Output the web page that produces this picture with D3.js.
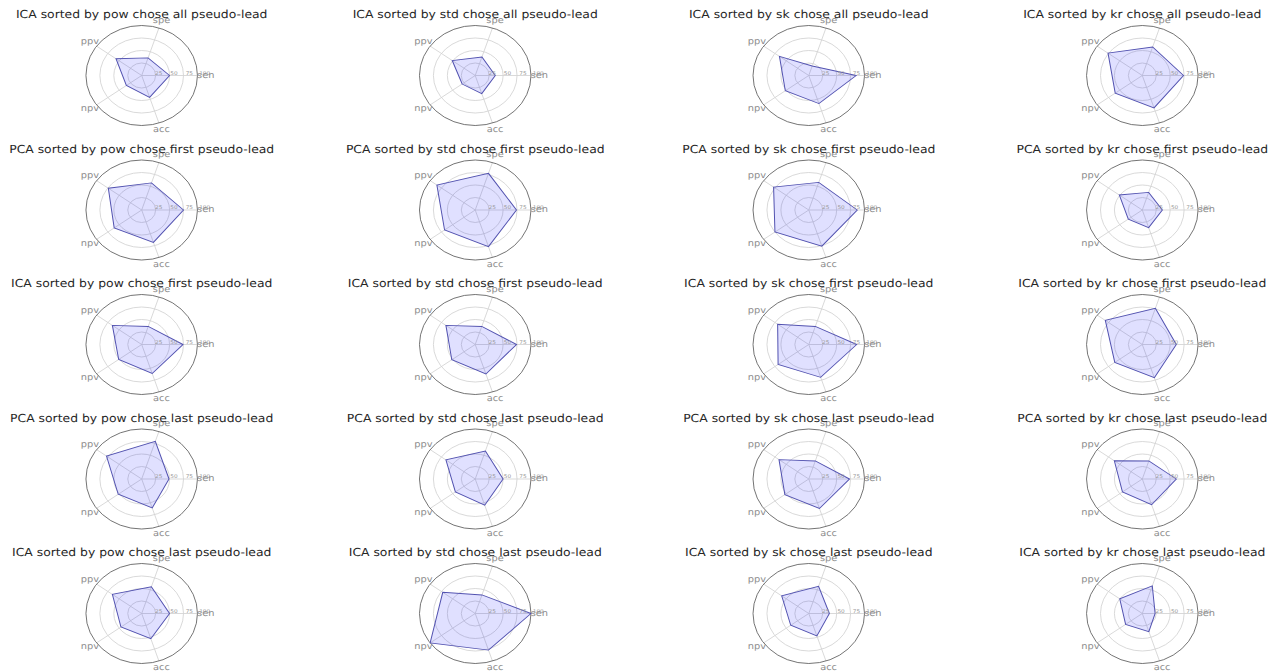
<!DOCTYPE html>
<html>
<head>
<meta charset="utf-8">
<script src="https://cdn.jsdelivr.net/npm/d3@7"></script>
<style>
  html, body { margin: 0; padding: 0; background: #fff; }
  svg { display: block; font-family: "DejaVu Sans", sans-serif; text-rendering: geometricPrecision; }
</style>
</head>
<body>
<svg id="chart" width="1270" height="672"></svg>
<script>
// Radar axes (counter-clockwise from the right) and radial ticks
const metrics = ["sen", "spe", "ppv", "npv", "acc"];
const radialTicks = [25, 50, 75, 100];
const sortKeys = ["pow", "std", "sk", "kr"];

// One row per decomposition / lead choice
const rowMethods = ["ICA", "PCA", "ICA", "PCA", "ICA"];
const rowChoices = ["all", "first", "first", "last", "last"];

// Scores per sort key, in metric order: sen, spe, ppv, npv, acc
const icaAllLeads    = [[50, 37, 57, 34, 46], [36, 39, 51, 29, 38], [85, 20, 65, 52, 59], [74, 60, 76, 60, 68]];
const pcaFirstLead   = [[75, 57, 74, 61, 68], [74, 77, 85, 68, 77], [87, 58, 78, 75, 76], [36, 37, 51, 31, 37]];
const icaFirstLead   = [[74, 38, 65, 51, 61], [74, 38, 65, 52, 62], [86, 38, 69, 68, 69], [61, 76, 82, 61, 70]];
const pcaLastLead    = [[49, 79, 78, 52, 61], [50, 59, 65, 44, 55], [73, 38, 66, 53, 62], [61, 38, 62, 44, 54]];
const icaLastLead    = [[50, 56, 65, 46, 53], [100, 39, 72, 100, 77], [37, 57, 60, 40, 47], [23, 58, 50, 37, 38]];
const rowValues = [icaAllLeads, pcaFirstLead, icaFirstLead, pcaLastLead, icaLastLead];

// The figure is drawn on an unstretched grid, then widened horizontally
const SX = 1.115;

const svg = d3.select("#chart");
const root = svg.append("g").attr("transform", `scale(${SX},1)`);

const col = d3.scalePoint().domain(sortKeys).range([141.7 / SX, 1142.3 / SX]);
const row = d3.scalePoint().domain(d3.range(rowMethods.length)).range([75.5, 613.5]);
const r = d3.scaleLinear().domain([0, 100]).range([0, 50]);
const angleDeg = d3.scalePoint().domain(metrics).range([0, 288]);

const toXY = (m, v) => {
  const a = angleDeg(m) * Math.PI / 180;
  return [r(v) * Math.cos(a), -r(v) * Math.sin(a)];
};

const line = d3.line().curve(d3.curveLinearClosed);

rowValues.forEach((vals, ri) => {
  sortKeys.forEach((key, ci) => {
    const g = root.append("g")
      .attr("transform", `translate(${col(key)},${row(ri)})`);

    // Grid rings
    g.selectAll("circle.ring")
      .data(radialTicks.slice(0, -1))
      .join("circle")
      .attr("class", "ring")
      .attr("r", d => r(d))
      .attr("fill", "none")
      .attr("stroke", "#d2d2d2")
      .attr("stroke-width", 0.8);

    // Spokes
    g.selectAll("line.spoke")
      .data(metrics)
      .join("line")
      .attr("class", "spoke")
      .attr("x1", 0).attr("y1", 0)
      .attr("x2", m => toXY(m, 100)[0])
      .attr("y2", m => toXY(m, 100)[1])
      .attr("stroke", "#d2d2d2")
      .attr("stroke-width", 0.8);

    // Outer boundary
    g.append("circle")
      .attr("r", r(100))
      .attr("fill", "none")
      .attr("stroke", "#5a5a5a")
      .attr("stroke-width", 0.8);

    // Score polygon
    const pts = metrics.map((m, i) => toXY(m, vals[ci][i]));
    g.append("path")
      .attr("d", line(pts))
      .attr("fill", "#0000ff")
      .attr("fill-opacity", 0.12)
      .attr("stroke", "#5252b0")
      .attr("stroke-width", 0.9);

    // Radial tick labels along the first axis
    g.selectAll("text.rtick")
      .data(radialTicks)
      .join("text")
      .attr("class", "rtick")
      .attr("x", d => r(d) * 1.1 + 1.5)
      .attr("y", -2)
      .attr("text-anchor", "middle")
      .attr("dominant-baseline", "central")
      .attr("font-size", 5.2)
      .attr("fill", "#9a9a9a")
      .text(d => d);

    // Axis labels
    g.selectAll("text.axis")
      .data(metrics)
      .join("text")
      .attr("class", "axis")
      .attr("x", m => toXY(m, 115)[0])
      .attr("y", m => toXY(m, 115)[1])
      .attr("text-anchor", "middle")
      .attr("dominant-baseline", "central")
      .attr("font-size", 8.8)
      .attr("fill", "#8c8c8c")
      .text(m => m);

    // Title
    g.append("text")
      .attr("x", 0)
      .attr("y", -57.5)
      .attr("text-anchor", "middle")
      .attr("font-size", 11.1)
      .attr("fill", "#262626")
      .text(`${rowMethods[ri]} sorted by ${key} chose ${rowChoices[ri]} pseudo-lead`);
  });
});
</script>
</body>
</html>
